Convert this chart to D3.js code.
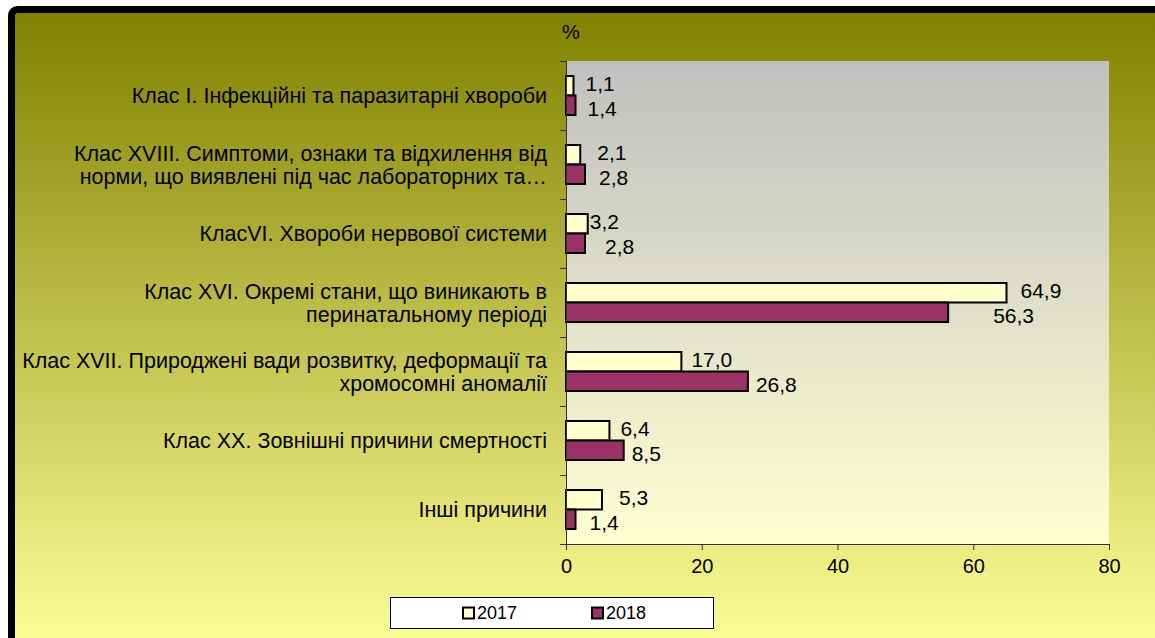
<!DOCTYPE html>
<html>
<head>
<meta charset="utf-8">
<script src="https://cdn.jsdelivr.net/npm/d3@7/dist/d3.min.js"></script>
<style>
  html, body { margin: 0; padding: 0; background: #fff; }
  svg { display: block; font-family: "Liberation Sans", Arial, sans-serif; }
</style>
</head>
<body>
<svg id="chart" width="1155" height="638"></svg>
<script>
const categories = [
  ['Клас I. Інфекційні та паразитарні хвороби'],
  ['Клас XVIII. Симптоми, ознаки та відхилення від', 'норми, що виявлені під час лабораторних та…'],
  ['КласVI. Хвороби нервової системи'],
  ['Клас XVI. Окремі стани, що виникають в', 'перинатальному періоді'],
  ['Клас XVII. Природжені вади розвитку, деформації та', 'хромосомні аномалії'],
  ['Клас XX. Зовнішні причини смертності'],
  ['Інші причини']
]
const years = ['2017', '2018']
const values2017 = [1.1, 2.1, 3.2, 64.9, 17.0, 6.4, 5.3]
const values2018 = [1.4, 2.8, 2.8, 56.3, 26.8, 8.5, 1.4]
const xTicks = [0, 20, 40, 60, 80]
// hand-moved data labels in the original (extra px right of the default spot)
const labelShift2017 = [4, 9, -6, 6, 2, 3, 9]
const labelShift2018 = [4, 6, 12, 37, 0, 0, 6]

const colors = {'2017': '#FFFFCC', '2018': '#993366'}
const margin = {left: 566, right: 1109, top: 61, bottom: 544}

const svg = d3.select('#chart')
const defs = svg.append('defs')

const outerGrad = defs.append('linearGradient').attr('id', 'outerGrad')
  .attr('x1', 0).attr('y1', 0).attr('x2', 0).attr('y2', 1)
outerGrad.append('stop').attr('offset', '0%').attr('stop-color', '#808000')
outerGrad.append('stop').attr('offset', '100%').attr('stop-color', '#FFFF99')

const plotGrad = defs.append('linearGradient').attr('id', 'plotGrad')
  .attr('x1', 0).attr('y1', 0).attr('x2', 0).attr('y2', 1)
plotGrad.append('stop').attr('offset', '0%').attr('stop-color', '#C0C0C0')
plotGrad.append('stop').attr('offset', '100%').attr('stop-color', '#FFFFD2')

// chart frame (runs off the right and bottom edges)
svg.append('rect')
  .attr('x', 11.5).attr('y', 9.5)
  .attr('width', 1200).attr('height', 640)
  .attr('rx', 6)
  .attr('fill', 'url(#outerGrad)')
  .attr('stroke', '#000').attr('stroke-width', 7)

const x = d3.scaleLinear().domain([0, 80]).range([margin.left, margin.right])
const y = d3.scaleBand().domain(d3.range(categories.length)).range([margin.top, margin.bottom])
const bandH = y.bandwidth()
const barH = 19.5
const yInner = d3.scaleBand().domain(years).range([bandH / 2 - barH, bandH / 2 + barH])

svg.append('rect')
  .attr('x', margin.left).attr('y', margin.top)
  .attr('width', margin.right - margin.left).attr('height', margin.bottom - margin.top)
  .attr('fill', 'url(#plotGrad)')

const rows = categories.map((c, i) => ({
  i,
  label: c,
  bars: [
    {year: '2017', value: values2017[i], shift: labelShift2017[i]},
    {year: '2018', value: values2018[i], shift: labelShift2018[i]}
  ]
}))

const groups = svg.append('g').attr('class', 'bars')
  .selectAll('g')
  .data(rows)
  .join('g')
  .attr('transform', d => `translate(0,${y(d.i)})`)

groups.selectAll('rect')
  .data(d => d.bars)
  .join('rect')
  .attr('x', x(0))
  .attr('y', d => yInner(d.year))
  .attr('width', d => x(d.value) - x(0))
  .attr('height', yInner.bandwidth())
  .attr('fill', d => colors[d.year])
  .attr('stroke', '#000')
  .attr('stroke-width', 2)

groups.selectAll('text.val')
  .data(d => d.bars)
  .join('text')
  .attr('class', 'val')
  .attr('x', d => x(d.value) + 8 + d.shift)
  .attr('y', d => yInner(d.year) + yInner.bandwidth() / 2 + (d.year === '2017' ? -2 : 3))
  .attr('dy', '0.35em')
  .attr('font-size', 21)
  .attr('fill', '#000')
  .text(d => d3.format('.1f')(d.value).replace('.', ','))

// category labels
const lineH = 23
svg.append('g').attr('class', 'cats')
  .selectAll('text')
  .data(rows)
  .join('text')
  .attr('text-anchor', 'end')
  .attr('font-size', 21.5)
  .attr('fill', '#000')
  .each(function (d) {
    const t = d3.select(this)
    const n = d.label.length
    d.label.forEach((line, k) => {
      t.append('tspan')
        .attr('x', 547)
        .attr('y', y(d.i) + bandH / 2 + (k - (n - 1) / 2) * lineH)
        .attr('dy', '0.35em')
        .text(line)
    })
  })

// axes
const axisColor = '#333'
const yAxis = svg.append('g').attr('stroke', axisColor).attr('stroke-width', 1)
yAxis.append('line')
  .attr('x1', margin.left + 0.5).attr('x2', margin.left + 0.5)
  .attr('y1', margin.top).attr('y2', margin.bottom)
yAxis.selectAll('line.tick')
  .data(d3.range(categories.length + 1))
  .join('line')
  .attr('class', 'tick')
  .attr('x1', margin.left - 6).attr('x2', margin.left)
  .attr('y1', d => Math.round(margin.top + d * bandH) + 0.5)
  .attr('y2', d => Math.round(margin.top + d * bandH) + 0.5)

const xAxis = svg.append('g')
  .attr('transform', `translate(0,${margin.bottom})`)
  .call(d3.axisBottom(x).tickValues(xTicks).tickSize(6).tickSizeOuter(0).tickPadding(9))
xAxis.selectAll('path, line').attr('stroke', axisColor)
xAxis.selectAll('text').attr('font-size', 20).attr('fill', '#000')
  .attr('font-family', '"Liberation Sans", Arial, sans-serif')

svg.append('text')
  .attr('x', 571).attr('y', 32)
  .attr('dy', '0.35em')
  .attr('text-anchor', 'middle')
  .attr('font-size', 20)
  .text('%')

// legend
const legend = svg.append('g')
legend.append('rect')
  .attr('x', 390.5).attr('y', 597.5)
  .attr('width', 323).attr('height', 31)
  .attr('fill', '#fff').attr('stroke', '#000').attr('stroke-width', 1)
const legX = d3.scaleOrdinal().domain(years).range([462, 591])
const items = legend.selectAll('g.item')
  .data(years)
  .join('g')
  .attr('class', 'item')
  .attr('transform', d => `translate(${legX(d)},613)`)
items.append('rect')
  .attr('x', 1).attr('y', -5.5)
  .attr('width', 11).attr('height', 11)
  .attr('fill', d => colors[d])
  .attr('stroke', '#000').attr('stroke-width', 2)
items.append('text')
  .attr('x', 15).attr('dy', '0.35em')
  .attr('font-size', 18)
  .text(d => d)
</script>
</body>
</html>
